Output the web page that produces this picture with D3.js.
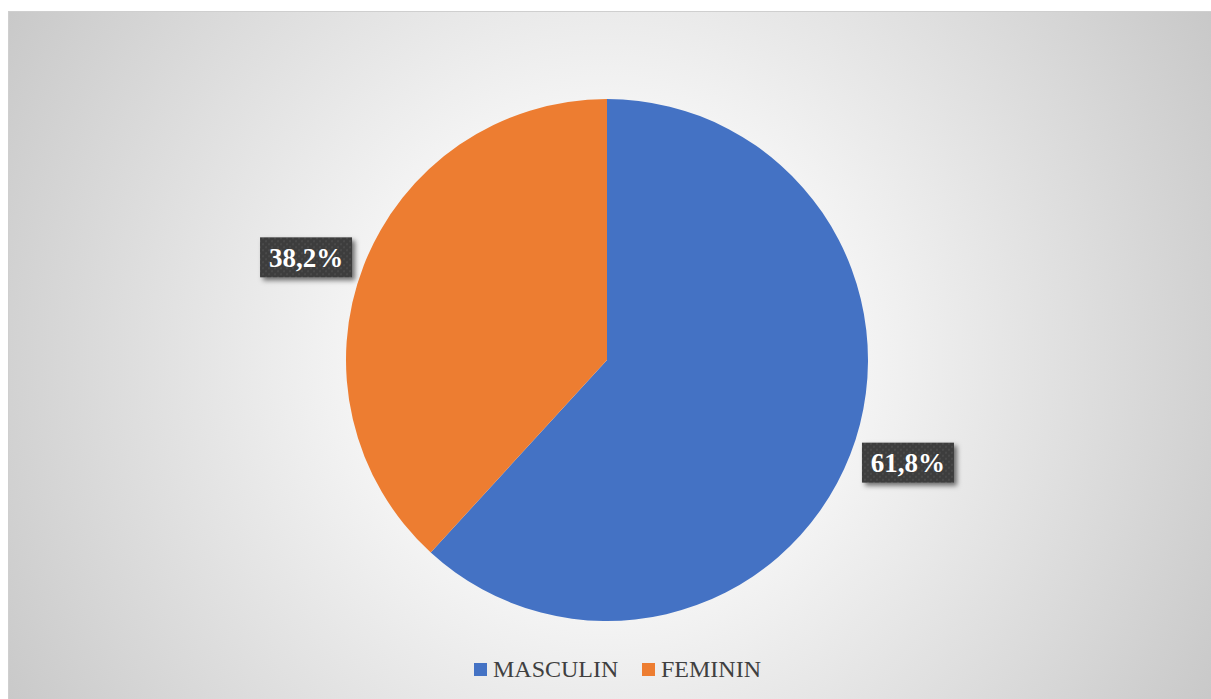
<!DOCTYPE html>
<html>
<head>
<meta charset="utf-8">
<script src="https://cdn.jsdelivr.net/npm/d3@7"></script>
<style>
  html, body { margin: 0; padding: 0; background: #ffffff; overflow: hidden; }
  svg { display: block; }
</style>
</head>
<body>
<svg id="chart" width="1211" height="699"></svg>
<script>
// Gender split
const categories = ["MASCULIN", "FEMININ"];
const values = [61.8, 38.2];
const valueLabels = ["61,8%", "38,2%"];
const colors = ["#4472C4", "#ED7D31"];

const W = 1211, H = 699;
const svg = d3.select("#chart");
const defs = svg.append("defs");

// Chart area background: radial fade from white to grey
const cx = 607, cy = 360, R = 261;
const grad = defs.append("radialGradient")
  .attr("id", "bgGrad")
  .attr("gradientUnits", "userSpaceOnUse")
  .attr("cx", cx).attr("cy", cy).attr("r", 720);
grad.append("stop").attr("offset", "0%").attr("stop-color", "#ffffff");
grad.append("stop").attr("offset", "35%").attr("stop-color", "#f4f4f4");
grad.append("stop").attr("offset", "100%").attr("stop-color", "#c6c6c6");

svg.append("rect")
  .attr("x", 8.5).attr("y", 11.5)
  .attr("width", W).attr("height", H)
  .attr("fill", "url(#bgGrad)")
  .attr("stroke", "#cfcfcf")
  .attr("stroke-width", 1);

// Dotted texture for the label boxes
const pat = defs.append("pattern")
  .attr("id", "dots")
  .attr("patternUnits", "userSpaceOnUse")
  .attr("width", 6).attr("height", 6);
pat.append("rect").attr("width", 6).attr("height", 6).attr("fill", "#3d3d3d");
pat.append("rect").attr("x", 1).attr("y", 1).attr("width", 2).attr("height", 2).attr("fill", "#4a4a4a");
pat.append("rect").attr("x", 4).attr("y", 4).attr("width", 2).attr("height", 2).attr("fill", "#4a4a4a");

const shadow = defs.append("filter")
  .attr("id", "shadow")
  .attr("x", "-20%").attr("y", "-30%")
  .attr("width", "150%").attr("height", "180%");
shadow.append("feDropShadow")
  .attr("dx", 3).attr("dy", 3)
  .attr("stdDeviation", 2.5)
  .attr("flood-color", "#000000")
  .attr("flood-opacity", 0.55);

// Pie
const pie = d3.pie().sort(null).value(d => d)
  .startAngle(0).endAngle(2 * Math.PI);
const arcs = pie(values);
const arc = d3.arc().innerRadius(0).outerRadius(R);

const g = svg.append("g").attr("transform", `translate(${cx},${cy})`);
g.selectAll("path.slice")
  .data(arcs)
  .enter().append("path")
  .attr("class", "slice")
  .attr("d", arc)
  .attr("fill", (d, i) => colors[i]);

// Data labels: dark boxes just outside each slice
const labelR = 318;
const labelShift = -0.042;
const boxW = 92, boxH = 40;
const lbl = g.selectAll("g.lbl")
  .data(arcs)
  .enter().append("g")
  .attr("class", "lbl")
  .attr("transform", d => {
    const a = (d.startAngle + d.endAngle) / 2 + labelShift;
    return `translate(${labelR * Math.sin(a)},${-labelR * Math.cos(a)})`;
  });
lbl.append("rect")
  .attr("x", -boxW / 2).attr("y", -boxH / 2)
  .attr("width", boxW).attr("height", boxH)
  .attr("fill", "url(#dots)")
  .attr("filter", "url(#shadow)");
lbl.append("text")
  .attr("text-anchor", "middle")
  .attr("dy", "0.35em")
  .attr("font-family", "'Liberation Serif', 'Times New Roman', serif")
  .attr("font-weight", "bold")
  .attr("font-size", 27)
  .attr("fill", "#ffffff")
  .text((d, i) => valueLabels[i]);

// Legend
const legend = svg.append("g").attr("transform", "translate(474,669)");
const legendX = [0, 168];
const items = legend.selectAll("g.item")
  .data(categories)
  .enter().append("g")
  .attr("class", "item")
  .attr("transform", (d, i) => `translate(${legendX[i]},0)`);
items.append("rect")
  .attr("x", 0).attr("y", -6)
  .attr("width", 13).attr("height", 13)
  .attr("fill", (d, i) => colors[i]);
items.append("text")
  .attr("x", 19).attr("y", 0)
  .attr("dy", "0.35em")
  .attr("font-family", "'Liberation Serif', 'Times New Roman', serif")
  .attr("font-size", 24)
  .attr("fill", "#404040")
  .text(d => d);
</script>
</body>
</html>
